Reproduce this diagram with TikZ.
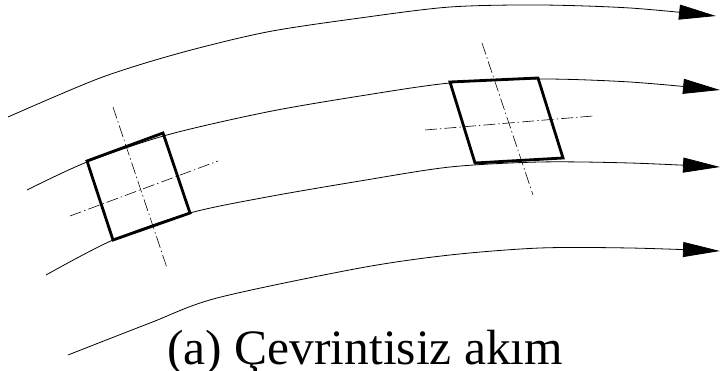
\documentclass[tikz,border=0pt]{standalone}
\usepackage{fontspec}
\setmainfont{Liberation Serif}
\usepackage{tikz}
\usetikzlibrary{arrows.meta}

\begin{document}
\begin{tikzpicture}[
    x=1pt,y=-1pt,
    streamline/.style={line width=0.8pt,-{Triangle[length=37pt,width=15pt]}},
    element/.style={line width=2.8pt,line join=miter},
    axisline/.style={line width=0.6pt,dash pattern=on 12pt off 3pt on 1.5pt off 3pt},
    caption/.style={font=\fontsize{49.5}{59}\selectfont,inner sep=0pt}
]
\useasboundingbox (0,0) rectangle (720,371);

% streamlines
\draw[streamline] plot[smooth] coordinates
  {(8,117) (100,78) (180,53) (267,32) (360,18) (450,7) (540,5) (630,8) (716,16)};
\draw[streamline] plot[smooth] coordinates
  {(27,190) (87,162) (167,135) (267,112) (360,96) (450,83) (540,79) (630,82) (720,90)};
\draw[streamline] plot[smooth] coordinates
  {(46,275) (113,240) (190,213) (267,197) (360,181) (450,167) (540,162) (630,163) (720,167)};
\draw[streamline] plot[smooth] coordinates
  {(68,355) (150,323) (217,298) (360,268) (450,255) (540,248) (630,248) (720,251)};

% fluid elements
\draw[element] (87,161) -- (163,133) -- (190,213) -- (113,240) -- cycle;
\draw[axisline] (113,107) -- (167,268);
\draw[axisline] (70,216) -- (218,161);

\draw[element] (450,82) -- (538,78) -- (563,158) -- (475,163) -- cycle;
\draw[axisline] (482,43) -- (533,195);
\draw[axisline] (425,130) -- (593,116);

\node[caption,anchor=base west] (title) at (167,364) {(a) Çevrintisiz akım};
\end{tikzpicture}
\end{document}
